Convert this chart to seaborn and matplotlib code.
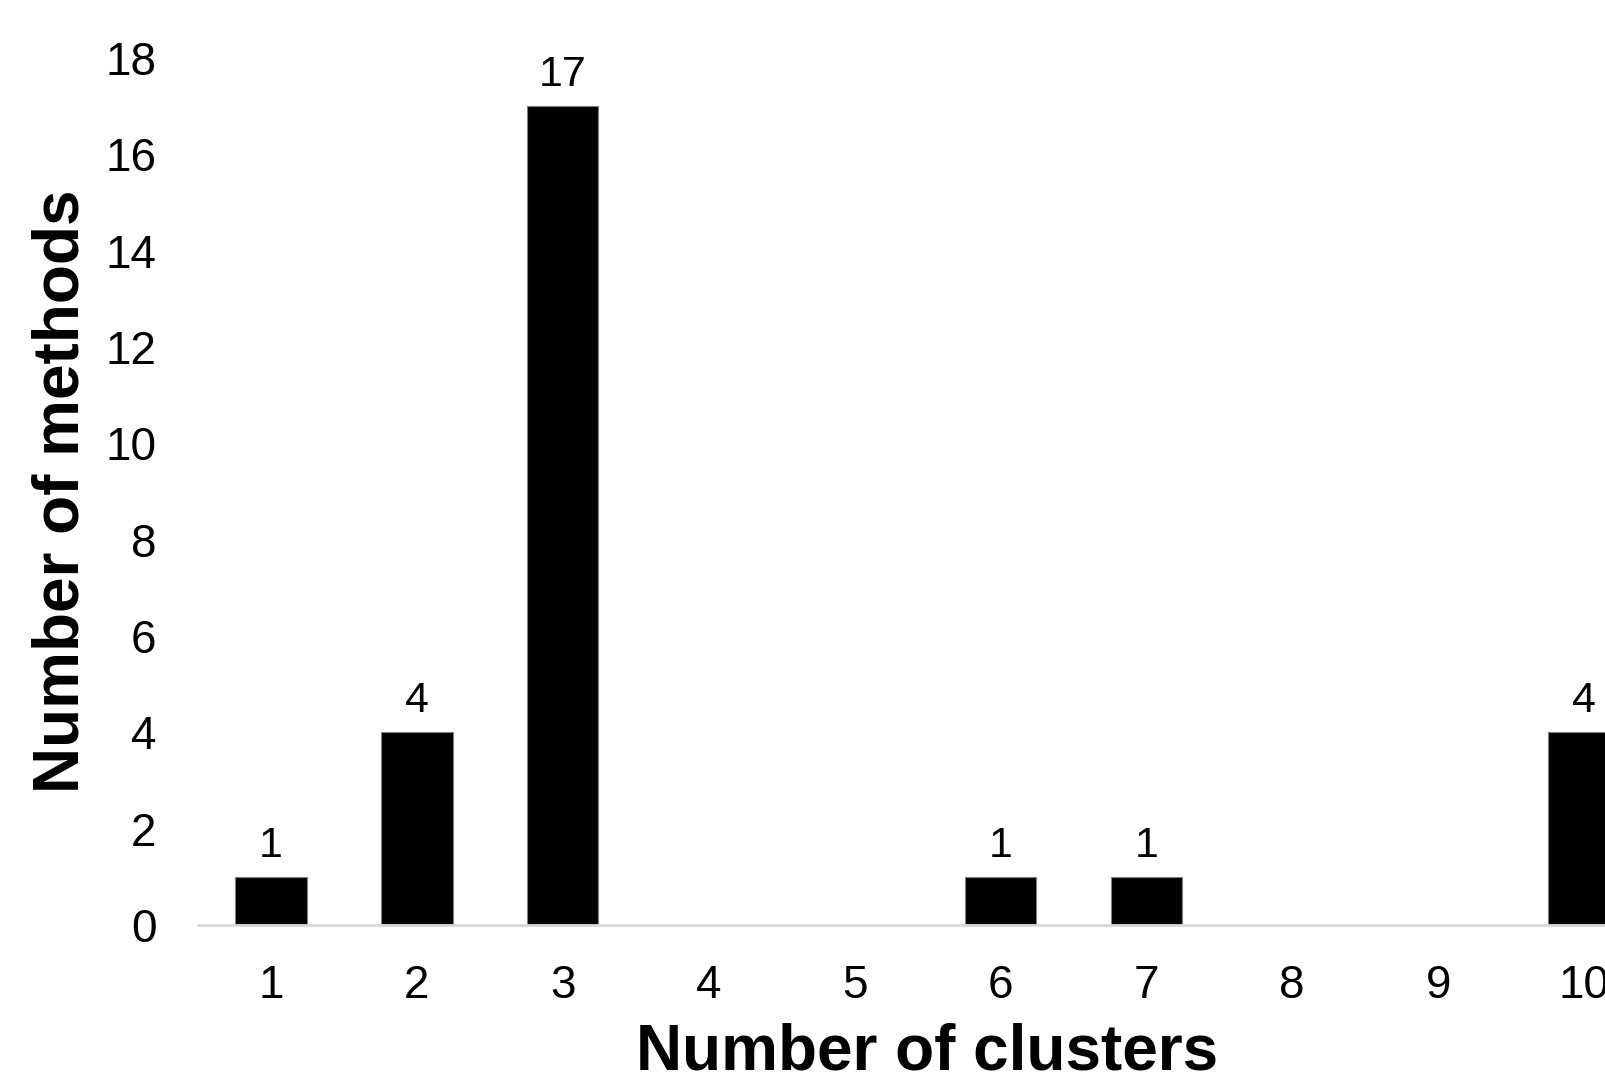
import matplotlib
matplotlib.use("Agg")
import matplotlib.pyplot as plt
import seaborn as sns
import pandas as pd

clusters = ["1", "2", "3", "4", "5", "6", "7", "8", "9", "10"]
methods = [1, 4, 17, 0, 0, 1, 1, 0, 0, 4]
y_ticks = [0, 2, 4, 6, 8, 10, 12, 14, 16, 18]

sns.set_theme(style="white")
plt.rcParams["font.family"] = ["Liberation Sans", "DejaVu Sans"]
plt.rcParams["text.color"] = "black"
plt.rcParams["axes.labelcolor"] = "black"
plt.rcParams["xtick.color"] = "black"
plt.rcParams["ytick.color"] = "black"

df = pd.DataFrame({"clusters": clusters, "methods": methods})

W, H = 1606, 1079
fig = plt.figure(figsize=(W / 100, H / 100), dpi=100)
# plot area runs past the right edge of the canvas
left, right, bottom, top = 198, 1657, 925, 58
ax = fig.add_axes([left / W, (H - bottom) / H, (right - left) / W, (bottom - top) / H])

sns.barplot(data=df, x="clusters", y="methods", order=clusters, color="black",
            width=0.49, edgecolor="#808080", linewidth=0.8, saturation=1, ax=ax)

labels = [str(v) if v > 0 else "" for v in methods]
ax.bar_label(ax.containers[0], labels=labels, fontsize=31, padding=8, color="black")

ax.set_xlim(-0.5, 9.5)
ax.set_ylim(0, 18)
ax.set_yticks(y_ticks)
ax.tick_params(axis="y", labelsize=33, pad=30, length=0)
ax.tick_params(axis="x", labelsize=33, pad=28, length=0)

for s in ["top", "right", "left"]:
    ax.spines[s].set_visible(False)
ax.spines["bottom"].set_color("#d9d9d9")
ax.spines["bottom"].set_linewidth(2)

ax.set_xlabel("")
ax.set_ylabel("Number of methods", fontsize=46, fontweight="bold", labelpad=10)
fig.text(0.577, 0.025, "Number of clusters",
         fontsize=46, fontweight="bold", ha="center", va="center")

fig.savefig("out.png", dpi=100)
